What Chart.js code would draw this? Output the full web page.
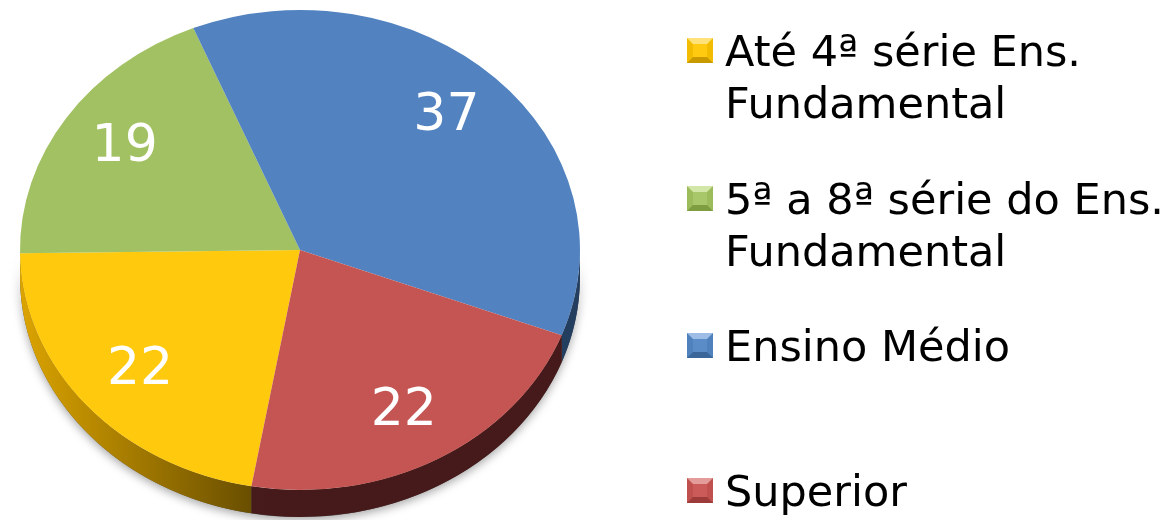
<!DOCTYPE html>
<html><head><meta charset="utf-8">
<script src="https://cdn.jsdelivr.net/npm/chart.js@4/dist/chart.umd.min.js"></script>
<style>
html,body{margin:0;padding:0;background:#fff;}
#wrap{position:relative;width:1175px;height:520px;overflow:hidden;background:#fff;}
canvas{position:absolute;left:0;top:0;}
.leg{position:absolute;left:687px;font-family:"DejaVu Sans",Verdana,sans-serif;font-size:43px;line-height:52px;color:#000;display:flex;align-items:flex-start;white-space:nowrap;}
.mk{box-sizing:border-box;width:26px;height:25px;border-style:solid;border-width:6px;margin-top:13px;margin-right:12px;flex:none;}
</style></head><body>
<div id="wrap"><canvas id="c" width="1175" height="520"></canvas><div id="legend"></div></div>
<script>
// ---- data ----
const categories = [["Até 4ª série Ens.","Fundamental"],["5ª a 8ª série do Ens.","Fundamental"],["Ensino Médio"],["Superior"]];
const values = [22, 19, 37, 22];
const sliceColors = ["#FFC90E", "#A2C162", "#5283C0", "#C45553"];
const sideLight = ["#DCA400", "#7E9C40", "#3A6699", "#5A2323"];
const sideDark  = ["#5F4700", "#4A6024", "#243E60", "#461A1A"];
const markerFaces = [
  ["#FFE27A", "#F2BD00", "#C99A00", "#F2BD00", "#FFCA10"],
  ["#D2E6A8", "#9CBB5A", "#7E9C40", "#9CBB5A", "#A8C66A"],
  ["#9DBDE6", "#4F81BD", "#3A6699", "#4F81BD", "#5A8CC8"],
  ["#E49C9A", "#C0504D", "#9C3B39", "#C0504D", "#CA5B58"]
];
// ---- layout ----
const legendTops = [24.5, 172.5, 319.5, 464.5];
const SX = 280 / 240;
const DEPTH = 27;

const pie3d = {
  id: 'pie3d',
  beforeDatasetsDraw(chart) {
    const ctx = chart.ctx;
    const meta = chart.getDatasetMeta(0);
    const a0 = meta.data[0];
    const cx = a0.x, cy = a0.y, r = a0.outerRadius;
    ctx.save();
    ctx.translate(cx, cy); ctx.scale(SX, 1); ctx.translate(-cx, -cy);
    // soft shadow under the body
    ctx.save();
    ctx.shadowColor = 'rgba(0,0,0,0.35)';
    ctx.shadowBlur = 10; ctx.shadowOffsetY = 3;
    ctx.beginPath();
    ctx.arc(cx, cy, r, 0, Math.PI);
    ctx.arc(cx, cy + DEPTH, r, Math.PI, 0, true);
    ctx.closePath();
    ctx.fillStyle = '#555';
    ctx.fill();
    ctx.restore();
    // side walls
    meta.data.forEach((el, i) => {
      const s = el.startAngle, e = el.endAngle;
      [0, 2 * Math.PI].forEach(k => {
        const a = Math.max(s, k), b = Math.min(e, k + Math.PI);
        if (b > a) {
          const g = ctx.createLinearGradient(cx - r, 0, cx + r, 0);
          g.addColorStop(0, sideLight[i]);
          g.addColorStop(0.45, sideDark[i]);
          g.addColorStop(1, sideDark[i]);
          ctx.beginPath();
          ctx.arc(cx, cy, r, a, b);
          ctx.arc(cx, cy + DEPTH, r, b, a, true);
          ctx.closePath();
          ctx.fillStyle = g;
          ctx.fill();
        }
      });
    });
  },
  afterDatasetsDraw(chart) {
    const ctx = chart.ctx;
    ctx.restore();
    const meta = chart.getDatasetMeta(0);
    ctx.save();
    ctx.fillStyle = '#fff';
    ctx.font = '52px "DejaVu Sans", Verdana, sans-serif';
    ctx.textAlign = 'center';
    ctx.textBaseline = 'alphabetic';
    meta.data.forEach((el, i) => {
      const mid = (el.startAngle + el.endAngle) / 2;
      const rr = el.outerRadius * 0.75;
      const sn = Math.sin(mid);
      const x = el.x + Math.cos(mid) * rr * SX;
      const y = el.y + sn * rr - 6 * (1 - sn);
      ctx.fillText(String(chart.data.datasets[0].data[i]), x, y + 19);
    });
    ctx.restore();
  }
};

const chart = new Chart(document.getElementById('c'), {
  type: 'pie',
  data: {
    labels: categories,
    datasets: [{
      data: values,
      backgroundColor: sliceColors,
      borderWidth: 0,
      hoverOffset: 0,
      clip: false
    }]
  },
  options: {
    responsive: false,
    animation: false,
    events: [],
    rotation: 190,
    layout: { padding: { left: 60, right: 635, top: 10, bottom: 30 } },
    plugins: { legend: { display: false }, tooltip: { enabled: false } }
  },
  plugins: [pie3d]
});

// HTML legend built from chart data
const legend = document.getElementById('legend');
chart.data.labels.forEach((lab, i) => {
  const item = document.createElement('div');
  item.className = 'leg';
  item.style.top = legendTops[i] + 'px';
  const mk = document.createElement('div');
  mk.className = 'mk';
  const f = markerFaces[i];
  mk.style.borderTopColor = f[0];
  mk.style.borderRightColor = f[1];
  mk.style.borderBottomColor = f[2];
  mk.style.borderLeftColor = f[3];
  mk.style.background = f[4];
  const tx = document.createElement('div');
  tx.innerHTML = (Array.isArray(lab) ? lab : [lab]).join('<br>');
  item.appendChild(mk);
  item.appendChild(tx);
  legend.appendChild(item);
});
</script>
</body></html>
